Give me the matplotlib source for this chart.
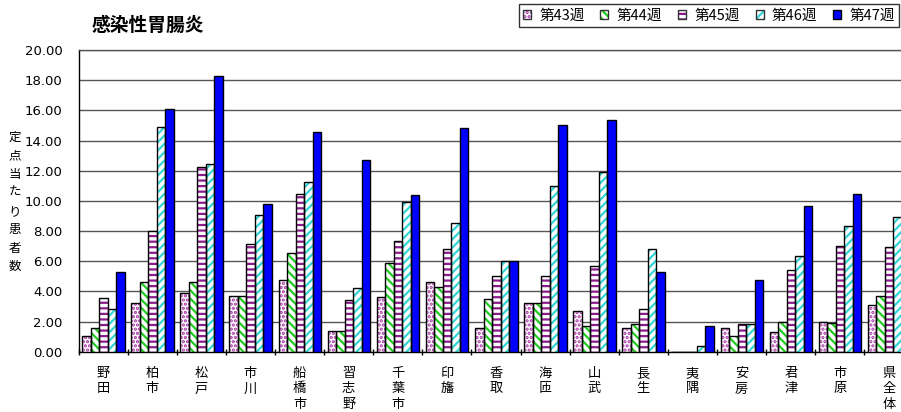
import numpy as np
import matplotlib.pyplot as plt
from matplotlib.patches import Patch
from matplotlib.legend_handler import HandlerTuple

plt.rcParams['font.family'] = ['Noto Sans CJK JP', 'DejaVu Sans']
plt.rcParams['hatch.linewidth'] = 1.6

# ---------------------------------------------------------------------------
# data
# ---------------------------------------------------------------------------
regions = ['野\n田', '柏\n市', '松\n戸', '市\n川', '船\n橋\n市', '習\n志\n野', '千\n葉\n市',
           '印\n旛', '香\n取', '海\n匝', '山\n武', '長\n生', '夷\n隅', '安\n房', '君\n津',
           '市\n原', '県\n全\n体']
weeks = ['第43週', '第44週', '第45週', '第46週', '第47週']

w43 = [1.04, 3.25, 3.86, 3.69, 4.77, 1.37, 3.60, 4.60, 1.59, 3.25, 2.72, 1.59, 0.00, 1.57, 1.28, 1.99, 3.07]
w44 = [1.59, 4.60, 4.60, 3.69, 6.56, 1.37, 5.85, 4.30, 3.51, 3.25, 1.72, 1.81, 0.00, 1.02, 1.99, 1.90, 3.71]
w45 = [3.53, 8.00, 12.25, 7.17, 10.46, 3.42, 7.37, 6.78, 4.99, 4.99, 5.65, 2.80, 0.00, 1.81, 5.39, 7.02, 6.91]
w46 = [2.80, 14.90, 12.43, 9.05, 11.28, 4.20, 9.90, 8.52, 6.03, 11.00, 11.88, 6.80, 0.40, 1.81, 6.36, 8.34, 8.96]
w47 = [5.30, 16.07, 18.30, 9.82, 14.57, 12.70, 10.37, 14.83, 6.03, 15.00, 15.36, 5.28, 1.72, 4.75, 9.67, 10.46, 11.50]
series = [w43, w44, w45, w46, w47]

# styles per week: (face, hatch colour, hatch)
styles = [
    ('white', '#aa33aa', '....'),
    ('white', '#22cc22', '\\\\\\\\'),
    ('white', '#8b1a8b', '---'),
    ('white', '#33d6d6', '////'),
    ('#0000ff', 'black', None),
]

# ---------------------------------------------------------------------------
# figure
# ---------------------------------------------------------------------------
fig = plt.figure(figsize=(9.01, 4.12), dpi=100)
ngroups = len(regions)
ax = fig.add_axes([78.5 / 901, 60.3 / 412, ngroups * 49.12 / 901, 301.7 / 412])

x = np.arange(ngroups)
bw = 0.173
shift = 0.005
handles = []
for i, (vals, (fc, hc, ht)) in enumerate(zip(series, styles)):
    pos = x + (i - 2) * bw + shift
    if ht is None:
        ax.bar(pos, vals, width=bw, color=fc, edgecolor='black', linewidth=1, zorder=3)
        handles.append(Patch(facecolor=fc, edgecolor='black', linewidth=1))
    else:
        ax.bar(pos, vals, width=bw, color=fc, edgecolor=hc, hatch=ht, linewidth=0, zorder=3)
        ax.bar(pos, vals, width=bw, fill=False, edgecolor='black', linewidth=1, zorder=4)
        handles.append((Patch(facecolor=fc, edgecolor=hc, hatch=ht, linewidth=0),
                        Patch(fill=False, edgecolor='#333333', linewidth=1)))

ax.set_xlim(-0.5, ngroups - 0.5)
ax.set_ylim(0, 20)
yt = np.arange(0, 20.1, 2)
ax.set_yticks(yt)
ax.set_yticklabels([f'{v:.2f}' for v in yt], fontsize=9.5, family='DejaVu Sans')
ax.yaxis.grid(True, color='#555555', linewidth=1)
ax.set_axisbelow(True)

ax.set_xticks(x)
ax.set_xticklabels(regions, fontsize=9.5, linespacing=1.25, va='top')
ax.tick_params(axis='x', length=0, pad=11)
ax.set_xticks(np.arange(-0.5, ngroups), minor=True)
ax.tick_params(axis='x', which='minor', length=5, direction='inout', width=1)
ax.tick_params(axis='y', length=0, pad=11.5)

for s in ['left', 'bottom', 'top']:
    ax.spines[s].set_linewidth(1)
    ax.spines[s].set_color('black')
ax.spines['top'].set_color('#555555')
ax.spines['right'].set_visible(False)

fig.text(148 / 901, 1 - 25 / 412, '感染性胃腸炎', fontsize=13.5, fontweight='bold',
         ha='center', va='center')
fig.text(15 / 901, 1 - 202 / 412, '定\n点\n当\nた\nり\n患\n者\n数', fontsize=9,
         ha='center', va='center', linespacing=1.55)

leg = fig.legend(handles, weeks, loc='upper right', bbox_to_anchor=(899 / 901, 1 - 4 / 412),
                 ncol=5, fontsize=10.5, frameon=True, fancybox=False, edgecolor='black',
                 handlelength=0.55, handleheight=0.55, handletextpad=0.55, columnspacing=1.1,
                 borderpad=0.3, borderaxespad=0,
                 handler_map={tuple: HandlerTuple(ndivide=1)})
leg.get_frame().set_linewidth(1)

fig.savefig('out.png', dpi=100)
